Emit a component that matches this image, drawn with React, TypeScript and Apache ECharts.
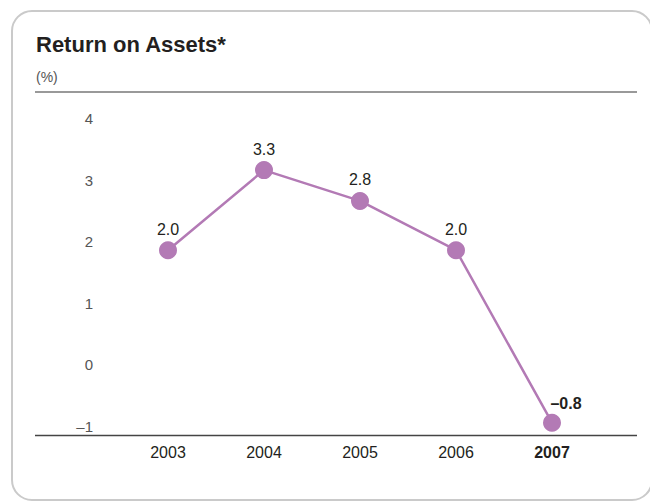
import React, { useEffect, useRef } from "react";
import * as echarts from "echarts";

const years = ["2003", "2004", "2005", "2006", "2007"];
const roa = [2.0, 3.3, 2.8, 2.0, -0.8];
const yTicks = [-1, 0, 1, 2, 3, 4];

const PURPLE = "#b37ab5";
const FONT = "'Liberation Sans', Arial, Helvetica, sans-serif";

export default function App() {
  const ref = useRef<HTMLDivElement>(null);
  useEffect(() => {
    if (!ref.current) return;
    const chart = echarts.init(ref.current, undefined, { renderer: "svg" });
    const fmt = (v: number) => v.toFixed(1).replace("-", "\u2013");
    chart.setOption({
      animation: false,
      backgroundColor: "#ffffff",
      textStyle: { fontFamily: FONT },
      grid: { left: 120, right: 50, top: 127, bottom: 67 },
      xAxis: {
        type: "category",
        data: years,
        boundaryGap: true,
        axisLine: { show: false },
        axisTick: { show: false },
        axisLabel: {
          fontFamily: FONT,
          fontSize: 16,
          color: "#231f20",
          margin: 9,
          formatter: (v: string) => (v === "2007" ? "{b|" + v + "}" : v),
          rich: { b: { fontFamily: FONT, fontSize: 16, fontWeight: "bold", color: "#231f20" } },
        },
      },
      yAxis: {
        type: "value",
        min: yTicks[0],
        max: yTicks[yTicks.length - 1],
        interval: 1,
        splitLine: { show: false },
        axisLine: { show: false },
        axisTick: { show: false },
        axisLabel: {
          fontFamily: FONT,
          fontSize: 15,
          color: "#555555",
          margin: 27,
          verticalAlign: "bottom",
          padding: [0, 0, 1, 0],
          formatter: (v: number) => String(v).replace("-", "\u2013"),
        },
      },
      graphic: [
        {
          type: "rect",
          shape: { x: 12, y: 11, width: 640, height: 489, r: 20 },
          style: { fill: "none", stroke: "#cacaca", lineWidth: 2 },
          silent: true,
        },
        {
          type: "text",
          left: 36,
          top: 33,
          style: { text: "Return on Assets*", fontFamily: FONT, fontSize: 22, fontWeight: "bold", fill: "#231f20" },
        },
        {
          type: "text",
          left: 36,
          top: 70,
          style: { text: "(%)", fontFamily: FONT, fontSize: 14, fill: "#555555" },
        },
        {
          type: "line",
          shape: { x1: 35, y1: 92, x2: 637, y2: 92 },
          style: { stroke: "#777777", lineWidth: 1.3 },
        },
        {
          type: "line",
          shape: { x1: 35, y1: 435.5, x2: 637, y2: 435.5 },
          style: { stroke: "#444444", lineWidth: 1.3 },
        },
      ],
      series: [
        {
          type: "line",
          data: roa.map((v, i) =>
            i === roa.length - 1
              ? { value: v, label: { position: "top", offset: [14, 2], fontWeight: "bold" } }
              : v
          ),
          symbol: "circle",
          symbolSize: 18,
          lineStyle: { color: PURPLE, width: 2.5 },
          itemStyle: { color: PURPLE },
          label: {
            show: true,
            position: "top",
            distance: 4,
            fontFamily: FONT,
            fontSize: 16,
            color: "#231f20",
            formatter: (p: any) => fmt(p.value),
          },
        },
      ],
    });
    return () => chart.dispose();
  }, []);
  return <div ref={ref} style={{ position: "fixed", left: 0, top: 0, width: 650, height: 502 }} />;
}
